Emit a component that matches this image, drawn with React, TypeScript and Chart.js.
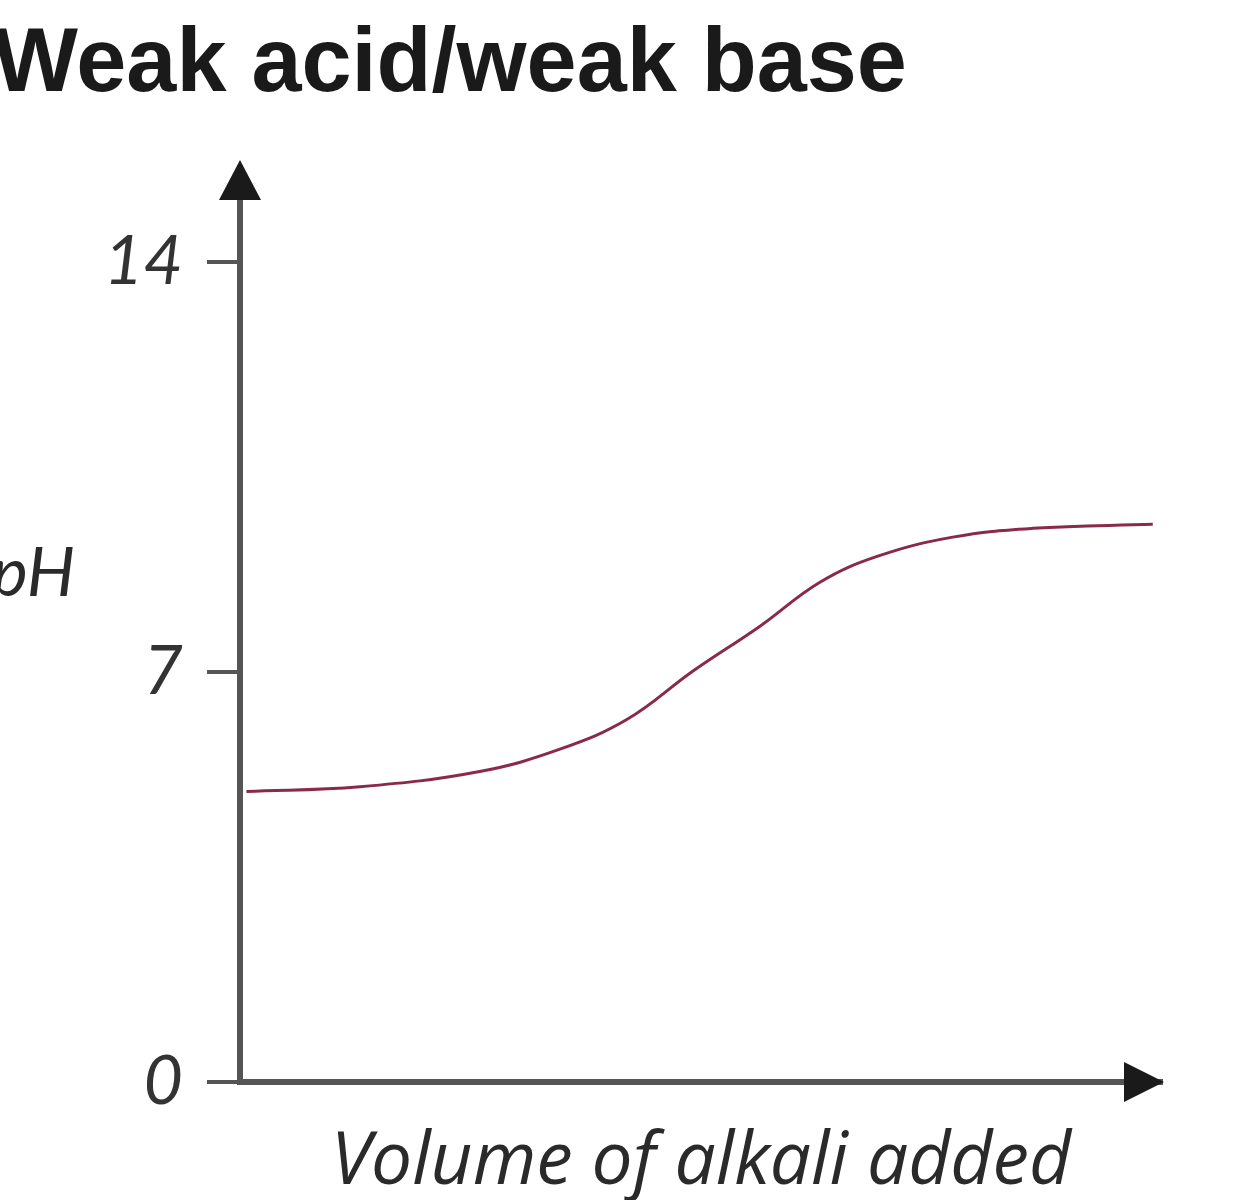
import { useEffect, useRef } from "react";
import { Chart, registerables } from "chart.js";

Chart.register(...registerables);

// volume of alkali added (arbitrary units, 0-100) vs pH
const volume = [0.7, 13, 26, 34.7, 42, 49.1, 56.4, 62.9, 69.1, 77.3, 86, 99];
const pH = [4.96, 5.04, 5.3, 5.68, 6.19, 7.01, 7.78, 8.53, 8.97, 9.3, 9.45, 9.52];
const yTicks = [0, 7, 14];

const axisColor = "#555555";
const italicFont = { family: "Lato, 'Open Sans', sans-serif", style: "italic" as const, size: 68 };

const arrowsAndLabel = {
  id: "arrowsAndLabel",
  afterDraw(chart: Chart) {
    const { ctx, chartArea } = chart;
    const { left, top, right, bottom } = chartArea;
    ctx.save();
    ctx.fillStyle = "#1a1a1a";
    // y arrow
    ctx.beginPath();
    ctx.moveTo(left, top - 8);
    ctx.lineTo(left - 21, top + 32);
    ctx.lineTo(left + 21, top + 32);
    ctx.closePath();
    ctx.fill();
    // x arrow
    ctx.beginPath();
    ctx.moveTo(right + 2, bottom);
    ctx.lineTo(right - 38, bottom - 20);
    ctx.lineTo(right - 38, bottom + 20);
    ctx.closePath();
    ctx.fill();
    // pH label (horizontal, left of axis)
    ctx.fillStyle = "#2a2a2a";
    ctx.font = "italic 68px Lato, 'Open Sans', sans-serif";
    ctx.textAlign = "right";
    ctx.textBaseline = "middle";
    ctx.fillText("pH", 82, 574);
    ctx.restore();
  },
};

export default function App() {
  const canvasRef = useRef<HTMLCanvasElement>(null);

  useEffect(() => {
    const canvas = canvasRef.current;
    if (!canvas) return;

    const chart = new Chart(canvas, {
      type: "line",
      data: {
        datasets: [
          {
            label: "pH",
            data: volume.map((v, i) => ({ x: v, y: pH[i] })),
            borderColor: "#8a2a4a",
            borderWidth: 3,
            pointRadius: 0,
            tension: 0.4,
            fill: false,
          },
        ],
      },
      options: {
        animation: false,
        responsive: true,
        maintainAspectRatio: false,
        layout: { padding: { left: 0, right: 73, top: 0, bottom: 0 } },
        plugins: {
          legend: { display: false },
          tooltip: { enabled: false },
          title: {
            display: true,
            text: "Weak acid/weak base",
            align: "start",
            color: "#1a1a1a",
            font: { family: "'Liberation Sans', Arial, sans-serif", weight: "bold", size: 90, lineHeight: 1.2 },
            padding: { top: 12, bottom: 48 },
          },
        },
        scales: {
          x: {
            type: "linear",
            min: 0,
            max: 100,
            grid: { display: false },
            border: { display: true, color: axisColor, width: 6 },
            ticks: { display: false },
            title: {
              display: true,
              text: "Volume of alkali added",
              color: "#2a2a2a",
              font: { family: "'Open Sans', Lato, sans-serif", style: "italic", size: 73, lineHeight: 1.0 },
              padding: 0,
            },
            afterFit: (scale) => {
              scale.height = 118;
            },
          },
          y: {
            min: 0,
            max: 15.6,
            afterBuildTicks: (scale) => {
              scale.ticks = yTicks.map((v) => ({ value: v }));
            },
            grid: { drawOnChartArea: false, drawTicks: true, tickLength: 33, color: axisColor, lineWidth: 4 },
            border: { display: true, color: axisColor, width: 6 },
            ticks: { color: "#333333", font: italicFont, padding: 24 },
            afterFit: (scale) => {
              scale.width = 247;
            },
          },
        },
      },
      plugins: [arrowsAndLabel],
    });

    return () => chart.destroy();
  }, []);

  return (
    <div style={{ position: "fixed", left: -7, top: 0, width: 1242, height: 1200, background: "#fff" }}>
      <canvas ref={canvasRef} />
    </div>
  );
}
